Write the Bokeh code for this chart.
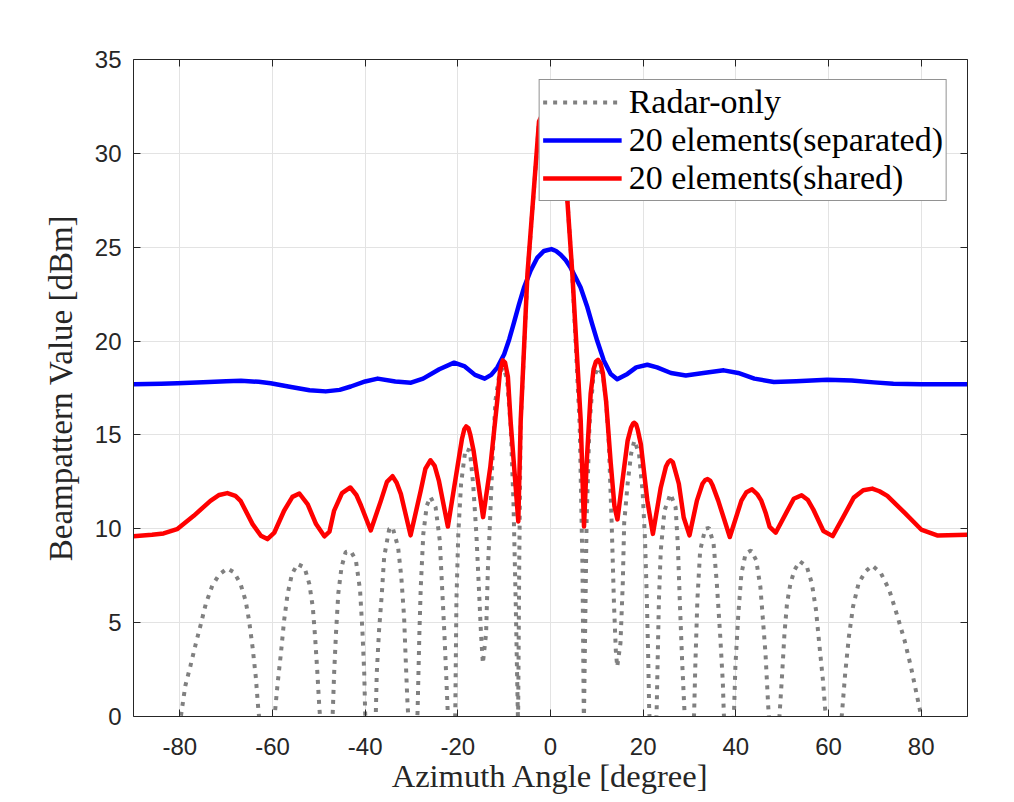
from bokeh.plotting import figure
from bokeh.models import FixedTicker, LinearAxis, Range1d, Legend, LegendItem
from bokeh.embed import file_html
from bokeh.resources import INLINE

# ---------------- data ----------------
radar_angle = [-90, -81, -79.7, -78.8, -77.7, -76.6, -75.5, -74.4, -73.0, -71.55, -69.75, -68.3, -66.9, -65.8,
               -65.05, -64.3, -63.6, -63.1, -61.3, -59.5, -58.9, -58.2, -57.5, -56.75, -55.8, -54.6, -53.1,
               -52.05, -51.3, -50.8, -50.3, -49.9, -48.45, -47.0, -46.7, -46.3, -45.8, -45.1, -44.2, -43.1,
               -42.0, -41.1, -40.6, -40.2, -40.0, -38.85, -37.7, -37.5, -37.0, -36.4, -35.9, -34.8, -34.1,
               -32.9, -32.2, -31.6, -31.3, -30.9, -29.8, -28.7, -28.5, -28.3, -28.0, -27.45, -26.7, -25.9,
               -24.8, -23.9, -23.4, -22.9, -22.5, -22.2, -21.35, -20.55, -20.45, -20.3, -19.9, -19.3, -18.35,
               -17.4, -16.7, -16.0, -15.5, -15.0, -14.6, -13.9, -13.5, -13.1, -12.6, -11.9, -11.0, -10.2,
               -9.4, -8.6, -8.0, -7.5, -7.0, -6.75, -6.45, -5.0, -2.5, 0.0, 2.5, 3.64, 4.72, 6.3, 6.9, 7.2,
               7.5, 7.8, 8.4, 9.2, 10.3, 11.3, 12.0, 12.6, 13.2, 13.7, 14.1, 14.4, 15.1, 15.6, 15.9, 16.65,
               17.4, 18.1, 19.1, 19.9, 20.4, 20.8, 21.1, 21.3, 22.1, 22.9, 23.1, 23.4, 23.8, 24.6, 25.9, 27.0,
               27.5, 27.9, 28.4, 28.9, 30.0, 31.0, 31.25, 31.7, 32.3, 33.4, 34.2, 35.2, 35.9, 36.6, 37.2,
               37.4, 38.5, 39.6, 39.9, 40.5, 41.2, 42.1, 43.3, 44.4, 45.3, 45.8, 46.4, 47.0, 48.3, 49.45,
               50.0, 50.5, 51.05, 51.8, 52.7, 53.8, 55.3, 56.4, 57.3, 58.0, 58.8, 59.3, 61.1, 62.9, 63.6,
               64.4, 65.3, 66.5, 68.0, 69.45, 71.3, 73.1, 74.9, 76.4, 77.8, 79.3, 79.9, 81.0, 90]
radar_db = [-8, -3, 0.14, 1.65, 2.71, 3.83, 4.89, 5.99, 6.97, 7.55, 7.89, 7.68, 7.06, 6.17,
            5.1, 3.69, 2.09, 0.5, -4, 0.14, 1.74, 3.33, 5.1, 6.52, 7.59, 8.12, 7.94,
            7.06, 5.82, 4.22, 2.27, 0.5, -4, 0.18, 2.3, 4.42, 6.55, 7.96, 8.76, 8.81,
            8.32, 6.73, 4.6, 2.3, 0.18, -4, 0.18, 2.3, 4.6, 6.55, 8.5, 10.0, 10.09,
            9.03, 7.43, 5.31, 3.36, 0.88, -4, 0.18, 2.3, 4.42, 6.9, 9.73, 11.24, 11.7,
            11.15, 9.38, 6.9, 4.42, 2.12, 0.35, -4, 0.18, 2.65, 6.2, 9.73, 12.4, 14.25,
            14.16, 12.4, 9.73, 7.08, 4.42, 2.83, 4.42, 7.96, 10.1, 13.27, 16.8, 18.3, 18.6,
            18.0, 15.5, 11.5, 6.0, -0.5, 8.0, 15.5, 23.4, 31.6, 33.0, 31.4, 27.5, 23.5, 15.5, 8.0, -0.5,
            5.0, 10.5, 15.5, 18.0, 18.6, 18.2, 16.8, 14.5, 10.3, 6.0, 3.5, 2.65, 3.9, 7.1, 10.3, 12.4,
            14.0, 14.7, 14.0, 11.9, 9.4, 6.2, 3.0, 0.35, -4, 0.18, 2.65, 6.2, 8.85, 10.97, 11.86, 11.15,
            9.03, 6.2, 3.0, 0.35, -4, 0.18, 2.65, 6.2, 8.85, 10.0, 10.05, 9.2, 7.08, 4.42, 1.77,
            0.18, -4, 0.18, 2.65, 5.31, 7.6, 8.67, 8.85, 8.32, 6.9, 5.31, 3.36, 0.5, -4, 0.14,
            2.29, 4.43, 6.04, 7.1, 7.82, 8.27, 8.0, 7.1, 5.68, 3.89, 1.93, 0.32, -4, 0.14, 2.29,
            4.25, 5.86, 7.1, 7.73, 8.04, 7.64, 6.75, 5.32, 4.07, 2.64, 0.86, 0.14, -3, -8]

sep_angle = [-90, -84, -80.5, -75, -70, -66.8, -63, -60.4, -56, -52, -48.5, -45.5, -43.1, -40, -37.3,
             -33.5, -30.1, -27.5, -24, -20.8, -18.5, -16.3, -14.2, -12.8, -11.46, -10.0, -8.9, -7.87, -6.8,
             -5.72, -4.3, -2.83, -1.4, 0.2, 1.2, 2.2, 3.3, 4.36, 5.4, 6.5, 7.96, 9.0, 10.1, 11.5, 13.0,
             14.4, 16.6, 18.5, 20.9, 23, 26, 29.2, 33, 37.4, 40.5, 44, 48.2, 53, 59.7, 65, 69.8, 74, 80, 90]
sep_db = [17.7, 17.72, 17.75, 17.8, 17.86, 17.88, 17.83, 17.75, 17.55, 17.38, 17.32, 17.4, 17.58, 17.85, 18.0,
          17.85, 17.78, 18.0, 18.5, 18.85, 18.65, 18.2, 18.0, 18.2, 18.6, 19.3, 20.1, 21.0, 21.95,
          22.85, 23.75, 24.45, 24.8, 24.9, 24.8, 24.6, 24.3, 23.9, 23.4, 22.85, 21.8, 20.9, 20.0, 18.97, 18.25,
          17.97, 18.25, 18.6, 18.74, 18.6, 18.3, 18.17, 18.3, 18.44, 18.3, 18.0, 17.82, 17.86, 17.94, 17.9,
          17.8, 17.73, 17.7, 17.7]

shared_angle = [-90, -86, -83.5, -80.6, -77.0, -73.4, -71.5, -69.75, -68, -66.9, -64.3, -62.5, -61.1, -59.6,
                -57.5, -55.7, -54.2, -52.4, -50.6, -48.8, -47.7, -46.7, -45, -43.2, -41.9, -40.9, -38.8,
                -36.6, -35.3, -34.1, -33.2, -32.3, -30.2, -28.0, -27, -25.9, -25.0, -24.1, -22.15, -20.1,
                -19.1, -18.6, -18.2, -17.7, -17.3, -16.6, -14.55, -13.0, -11.5, -10.9, -10.3, -9.8, -9.2,
                -8.6, -7.6, -6.95, -6.43, -4.98, -2.48, 0, 2.48, 3.64, 4.72, 6.52, 7.23, 7.8, 8.67, 9.3, 9.8,
                10.25, 10.8, 11.3, 12.0, 13.0, 13.8, 14.45, 15.9, 16.65, 17.4, 17.8, 18.1, 18.5, 18.8, 19.5,
                20.9, 22.1, 23.8, 24.9, 25.4, 25.9, 26.4, 26.8, 27.7, 28.75, 30.0, 31.6, 32.8, 33.4, 33.9,
                34.5, 35.0, 36.2, 38.7, 41.2, 42.3, 43.5, 44.6, 45.5, 46.5, 47.3, 48.6, 50.9, 52.5, 54.2,
                55.5, 56.7, 58.9, 60.9, 62.9, 65.45, 67.5, 69.45, 71.0, 72.7, 76.4, 80.0, 83.6, 90]
shared_db = [9.6, 9.68, 9.75, 9.98, 10.69, 11.49, 11.8, 11.9, 11.75, 11.49, 10.25, 9.63, 9.45, 9.8,
             10.96, 11.7, 11.88, 11.3, 10.25, 9.6, 9.85, 10.97, 11.9, 12.2, 11.8, 11.24, 9.91,
             11.5, 12.5, 12.8, 12.45, 11.86, 9.65, 12.04, 13.2, 13.65, 13.35, 12.57, 10.12, 13.27,
             14.8, 15.3, 15.45, 15.35, 15.0, 14.16, 10.62, 13.27, 16.8, 18.4, 18.97, 18.85, 18.1,
             15.7, 12.5, 10.39, 15.78, 23.56, 31.7, 33.0, 31.6, 27.5, 23.56, 15.78, 10.12, 13.5, 17.2, 18.5, 18.9,
             19.0, 18.8, 18.3, 16.8, 13.5, 11.2, 10.5, 13.27, 14.7, 15.4, 15.6, 15.65, 15.55, 15.3, 14.5,
             11.5, 9.73, 12.2, 13.3, 13.55, 13.65, 13.55, 13.2, 12.4, 10.6, 9.65, 11.5, 12.4, 12.6, 12.65,
             12.55, 12.3, 11.5, 9.56, 11.5, 11.95, 12.1, 11.85, 11.5, 10.8, 10.1, 9.79, 10.86, 11.6, 11.79,
             11.55, 11.04, 9.88, 9.61, 10.5, 11.66, 12.05, 12.14, 12.0, 11.75, 10.86, 9.96, 9.64, 9.68]

x_ticks = [-80, -60, -40, -20, 0, 20, 40, 60, 80]
x_tick_labels = ["-80", "-60", "-40", "-20", "0", "20", "40", "60", "80"]
y_ticks = [0, 5, 10, 15, 20, 25, 30, 35]
series_labels = ["Radar-only", "20 elements(separated)", "20 elements(shared)"]

AX = "#262626"

p = figure(frame_width=834, frame_height=657,
           x_range=Range1d(-90, 90), y_range=Range1d(0, 35),
           output_backend="svg", toolbar_location=None,
           min_border_left=133, min_border_top=59, min_border_right=47, min_border_bottom=86,
           background_fill_color="white", border_fill_color="white")
p.outline_line_color = None

r_radar = p.line(radar_angle, radar_db, line_color="#808080", line_width=4,
                 line_dash="4 6", line_cap="butt")
r_sep = p.line(sep_angle, sep_db, line_color="#0000FF", line_width=4.5, line_join="round")
r_shared = p.line(shared_angle, shared_db, line_color="#FF0000", line_width=4.5, line_join="round")

p.xgrid.ticker = FixedTicker(ticks=x_ticks)
p.ygrid.ticker = FixedTicker(ticks=y_ticks)
for g in (p.xgrid, p.ygrid):
    g.grid_line_color = "#e3e3e3"
    g.grid_line_width = 1


def style_axis(ax, ticks, labels=True):
    ax.ticker = FixedTicker(ticks=ticks)
    ax.major_tick_in = 7
    ax.major_tick_out = 0
    ax.minor_tick_line_color = None
    ax.axis_line_color = AX
    ax.axis_line_width = 1
    ax.major_tick_line_color = AX
    ax.major_tick_line_width = 1
    ax.major_label_text_font = "Liberation Sans"
    ax.major_label_text_color = AX
    if labels:
        ax.major_label_text_font_size = "24px"
    else:
        ax.major_label_text_font_size = "0px"
        ax.major_label_overrides = {t: "" for t in ticks}


xa = p.xaxis[0]
ya = p.yaxis[0]
style_axis(xa, x_ticks)
style_axis(ya, y_ticks)
xa.major_label_overrides = dict(zip(x_ticks, x_tick_labels))
xa.major_label_standoff = 21
ya.major_label_standoff = 12
for ax, txt, fs in ((xa, "Azimuth Angle [degree]", "32.5px"), (ya, "Beampattern Value [dBm]", "33px")):
    ax.axis_label = txt
    ax.axis_label_text_font = "Liberation Serif"
    ax.axis_label_text_font_style = "normal"
    ax.axis_label_text_font_size = fs
    ax.axis_label_text_color = AX
xa.axis_label_standoff = 0
ya.axis_label_standoff = 13

top_ax = LinearAxis()
style_axis(top_ax, x_ticks, labels=False)
top_ax.major_label_standoff = 0
p.add_layout(top_ax, "above")
right_ax = LinearAxis()
style_axis(right_ax, y_ticks, labels=False)
right_ax.major_label_standoff = 0
p.add_layout(right_ax, "right")

legend = Legend(items=[LegendItem(label=series_labels[0], renderers=[r_radar]),
                       LegendItem(label=series_labels[1], renderers=[r_sep]),
                       LegendItem(label=series_labels[2], renderers=[r_shared])],
                location="top_right")
legend.margin = 20
legend.padding = 3
legend.spacing = 0
legend.glyph_width = 79
legend.glyph_height = 36
legend.label_height = 36
legend.label_standoff = 7
legend.label_text_font = "Liberation Serif"
legend.label_text_font_size = "34px"
legend.label_text_color = "black"
legend.border_line_color = AX
legend.border_line_width = 1
legend.background_fill_color = "white"
legend.background_fill_alpha = 1.0
p.add_layout(legend)

open("out.html", "w").write(file_html(p, INLINE))
